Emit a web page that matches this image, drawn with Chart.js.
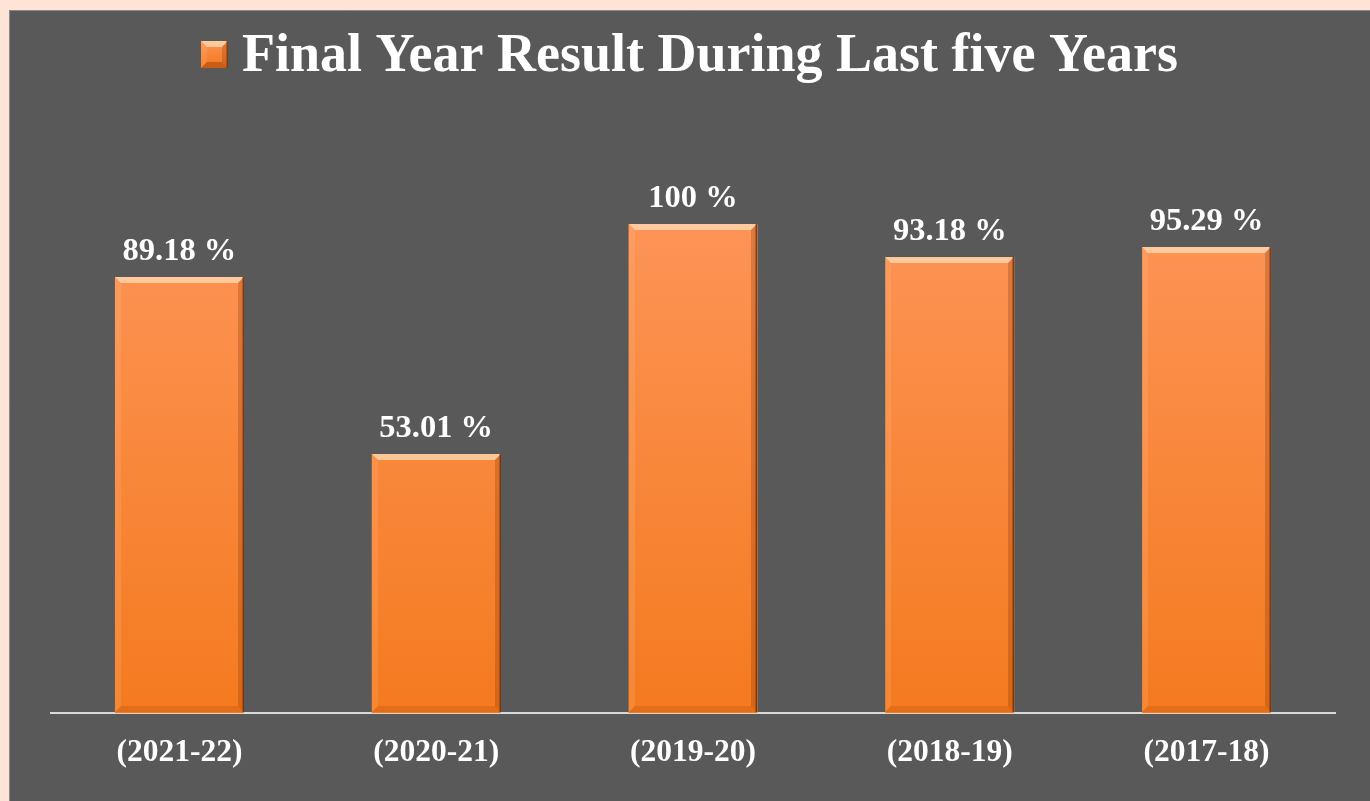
<!DOCTYPE html>
<html>
<head>
<meta charset="utf-8">
<script src="https://cdn.jsdelivr.net/npm/chart.js@4/dist/chart.umd.min.js"></script>
<style>
html,body{margin:0;padding:0;background:#fde4d6;overflow:hidden;}
#wrap{width:1370px;height:801px;position:relative;}
</style>
</head>
<body>
<div id="wrap"><canvas id="c" width="1370" height="801"></canvas></div>
<script>
const categories = ['(2021-22)', '(2020-21)', '(2019-20)', '(2018-19)', '(2017-18)'];
const resultValues = [89.18, 53.01, 100, 93.18, 95.29];
const valueLabels = ['89.18 %', '53.01 %', '100 %', '93.18 %', '95.29 %'];
const seriesName = 'Final Year Result During Last five Years';

const FONT = "'Liberation Serif', 'Times New Roman', serif";

const bgPlugin = {
  id: 'bg',
  beforeDraw(chart) {
    const ctx = chart.ctx;
    ctx.save();
    ctx.fillStyle = '#fde4d6';
    ctx.fillRect(0, 0, chart.width, chart.height);
    ctx.fillStyle = '#595959';
    ctx.fillRect(9, 10, chart.width - 9, chart.height - 10);
    ctx.strokeStyle = '#8c8c8c';
    ctx.lineWidth = 1;
    ctx.beginPath();
    ctx.moveTo(9.5, chart.height);
    ctx.lineTo(9.5, 10.5);
    ctx.lineTo(chart.width, 10.5);
    ctx.stroke();
    ctx.restore();
  }
};

function bevel(ctx, x0, y0, x1, y1, b, bottomShade) {
  ctx.fillStyle = 'rgba(255,225,190,0.7)';
  ctx.beginPath();
  ctx.moveTo(x0, y0); ctx.lineTo(x1, y0); ctx.lineTo(x1 - b, y0 + b); ctx.lineTo(x0 + b, y0 + b); ctx.closePath();
  ctx.fill();
  ctx.fillStyle = 'rgba(255,200,150,0.18)';
  ctx.beginPath();
  ctx.moveTo(x0, y0); ctx.lineTo(x0 + b, y0 + b); ctx.lineTo(x0 + b, y1 - b); ctx.lineTo(x0, y1); ctx.closePath();
  ctx.fill();
  ctx.fillStyle = 'rgba(120,45,0,0.25)';
  ctx.beginPath();
  ctx.moveTo(x1, y0); ctx.lineTo(x1 - b, y0 + b); ctx.lineTo(x1 - b, y1 - b); ctx.lineTo(x1, y1); ctx.closePath();
  ctx.fill();
  ctx.fillStyle = bottomShade;
  ctx.beginPath();
  ctx.moveTo(x0, y1); ctx.lineTo(x0 + b, y1 - b); ctx.lineTo(x1 - b, y1 - b); ctx.lineTo(x1, y1); ctx.closePath();
  ctx.fill();
  ctx.strokeStyle = 'rgba(100,35,0,0.7)';
  ctx.lineWidth = 1.5;
  ctx.beginPath();
  ctx.moveTo(x1 - 0.75, y0); ctx.lineTo(x1 - 0.75, y1);
  ctx.stroke();
}

const barDeco = {
  id: 'barDeco',
  afterDatasetsDraw(chart) {
    const ctx = chart.ctx;
    const meta = chart.getDatasetMeta(0);
    ctx.save();
    meta.data.forEach((bar, i) => {
      const p = bar.getProps(['x', 'y', 'base', 'width'], true);
      const x0 = Math.round(p.x - p.width / 2), x1 = Math.round(p.x + p.width / 2);
      const y0 = Math.round(p.y), y1 = Math.round(p.base) - 1;
      bevel(ctx, x0, y0, x1, y1, 6, 'rgba(190,80,10,0.3)');
      ctx.fillStyle = '#ffffff';
      ctx.font = 'bold 32.5px ' + FONT;
      ctx.textAlign = 'center';
      ctx.textBaseline = 'alphabetic';
      ctx.fillText(valueLabels[i], p.x, p.y - 17);
    });
    ctx.restore();
  }
};

const legendPlugin = {
  id: 'customLegend',
  afterDraw(chart) {
    const ctx = chart.ctx;
    ctx.save();
    ctx.font = 'bold 54px ' + FONT;
    const tw = ctx.measureText(seriesName).width;
    const box = 27, gap = 14;
    const total = box + gap + tw;
    const cx = (9 + chart.width) / 2;
    const sx = Math.round(cx - total / 2);
    const cy = 55;
    const by = 41;
    const g = ctx.createLinearGradient(0, by, 0, by + box);
    g.addColorStop(0, '#fb9550');
    g.addColorStop(1, '#f27620');
    ctx.fillStyle = g;
    ctx.fillRect(sx, by, box, box);
    bevel(ctx, sx, by, sx + box, by + box, 6, 'rgba(150,60,5,0.45)');
    ctx.fillStyle = '#ffffff';
    ctx.textAlign = 'left';
    ctx.textBaseline = 'middle';
    ctx.fillText(seriesName, sx + box + gap, cy + 2);
    ctx.restore();
  }
};

new Chart(document.getElementById('c'), {
  type: 'bar',
  data: {
    labels: categories,
    datasets: [{
      label: seriesName,
      data: resultValues,
      backgroundColor(ctx) {
        const chart = ctx.chart;
        const a = chart.chartArea;
        if (!a) return '#f7842e';
        const g = chart.ctx.createLinearGradient(0, a.top, 0, a.bottom);
        g.addColorStop(0, '#fd9456');
        g.addColorStop(1, '#f47a1f');
        return g;
      },
      borderWidth: 0,
      categoryPercentage: 1,
      barPercentage: 0.502
    }]
  },
  options: {
    responsive: false,
    animation: false,
    layout: { padding: { left: 51, right: 35, top: 224, bottom: 16 } },
    plugins: {
      legend: { display: false },
      title: { display: false },
      tooltip: { enabled: false }
    },
    scales: {
      y: { display: false, min: 0, max: 100 },
      x: {
        grid: { display: false },
        border: { display: true, color: '#d9d9d9', width: 2 },
        ticks: {
          color: '#ffffff',
          padding: 13,
          font: { family: FONT, size: 31.5, weight: 'bold' }
        }
      }
    }
  },
  plugins: [bgPlugin, barDeco, legendPlugin]
});
</script>
</body>
</html>
